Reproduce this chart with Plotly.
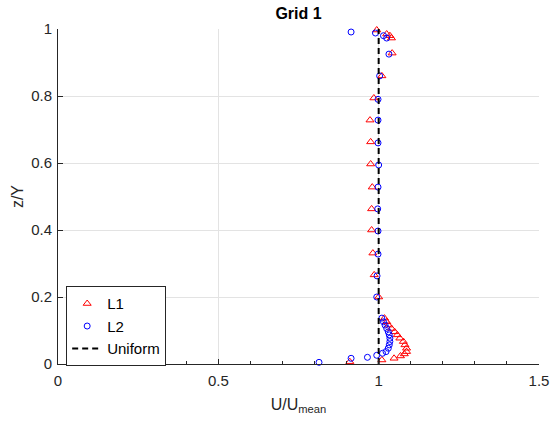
import plotly.graph_objects as go

# L1 (red triangles)
l1_u = [0.91, 1.01, 1.048, 1.068, 1.08, 1.087, 1.087, 1.082, 1.077, 1.066, 1.058, 1.05, 1.04, 1.031, 1.025, 1.018,
        1.0, 0.986, 0.982, 0.978, 0.978, 0.98, 0.975, 0.975, 0.973, 0.985, 1.01, 1.042, 1.04, 1.035, 1.025, 0.994]
l1_z = [0.007, 0.012, 0.017, 0.024, 0.03, 0.037, 0.047, 0.057, 0.067, 0.077, 0.087, 0.096, 0.106, 0.116, 0.126, 0.137,
        0.2, 0.266, 0.331, 0.4, 0.463, 0.528, 0.597, 0.663, 0.728, 0.794, 0.86, 0.928, 0.973, 0.98, 0.985, 0.997]

# L2 (blue circles)
l2_u = [0.814, 0.914, 0.965, 0.994, 1.012, 1.023, 1.03, 1.033, 1.035, 1.035, 1.033, 1.03, 1.025, 1.02, 1.015, 1.01,
        0.994, 0.995, 0.998, 0.998, 0.997, 0.998, 1.0, 0.998, 0.998, 0.998, 1.003, 1.032, 1.025, 1.015, 0.99, 0.914]
l2_z = [0.005, 0.017, 0.02, 0.026, 0.032, 0.037, 0.047, 0.057, 0.067, 0.077, 0.087, 0.096, 0.106, 0.116, 0.126, 0.137,
        0.2, 0.263, 0.328, 0.397, 0.463, 0.528, 0.594, 0.66, 0.728, 0.79, 0.86, 0.925, 0.973, 0.98, 0.988, 0.991]

# Uniform profile
uni_u = [1.0, 1.0]
uni_z = [0.0, 1.0]

x_ticks = [0, 0.5, 1, 1.5]
x_ticklabels = ["0", "0.5", "1", "1.5"]
y_ticks = [0, 0.2, 0.4, 0.6, 0.8, 1]
y_ticklabels = ["0", "0.2", "0.4", "0.6", "0.8", "1"]

axc = "#262626"
fnt = "Liberation Sans, Arial, Helvetica, sans-serif"

fig = go.Figure()
fig.add_trace(go.Scatter(x=l1_u, y=l1_z, mode="markers", name="L1", cliponaxis=False,
                         marker=dict(symbol="triangle-up-open", size=7, color="#ff0000",
                                     line=dict(width=1, color="#ff0000"))))
fig.add_trace(go.Scatter(x=l2_u, y=l2_z, mode="markers", name="L2", cliponaxis=False,
                         marker=dict(symbol="circle-open", size=6, color="#0000ff",
                                     line=dict(width=1, color="#0000ff"))))
fig.add_trace(go.Scatter(x=uni_u, y=uni_z, mode="lines", name="Uniform",
                         line=dict(color="black", width=2, dash="6px,4px")))

fig.update_layout(
    width=551, height=425,
    margin=dict(l=58, r=12, t=29, b=61, autoexpand=False),
    paper_bgcolor="white", plot_bgcolor="white",
    font=dict(family=fnt, size=15, color=axc),
    title=dict(text="<b>Grid 1</b>", x=(58 + 539) / 2 / 551, xanchor="center",
               y=1 - 13 / 425, yanchor="middle", font=dict(size=16, color="black")),
    showlegend=True,
    legend=dict(x=0.017, y=0.232, xanchor="left", yanchor="top",
                bgcolor="white", bordercolor=axc, borderwidth=1,
                font=dict(size=15, color="black"), tracegroupgap=0),
    xaxis=dict(range=[0, 1.5], tickvals=x_ticks, ticktext=x_ticklabels, automargin=False,
               showgrid=True, gridcolor="#e3e3e3", gridwidth=1, zeroline=False,
               showline=True, linecolor=axc, linewidth=1, mirror=False,
               ticks="inside", ticklen=5, tickcolor=axc, ticklabelstandoff=3,
               minor=dict(dtick=0.1, ticks="inside", ticklen=3, tickcolor=axc, showgrid=False),
               title=dict(text="U/U<sub>mean</sub>", font=dict(size=16, color=axc), standoff=10),
               tickfont=dict(size=15, color=axc)),
    yaxis=dict(range=[0, 1], tickvals=y_ticks, ticktext=y_ticklabels, automargin=False,
               showgrid=True, gridcolor="#e3e3e3", gridwidth=1, zeroline=False,
               showline=True, linecolor=axc, linewidth=1, mirror=False,
               ticks="inside", ticklen=5, tickcolor=axc, ticklabelstandoff=2,
               title=dict(text="z/Y", font=dict(size=16, color=axc), standoff=3),
               tickfont=dict(size=15, color=axc)),
)

fig.write_html("out.html")
